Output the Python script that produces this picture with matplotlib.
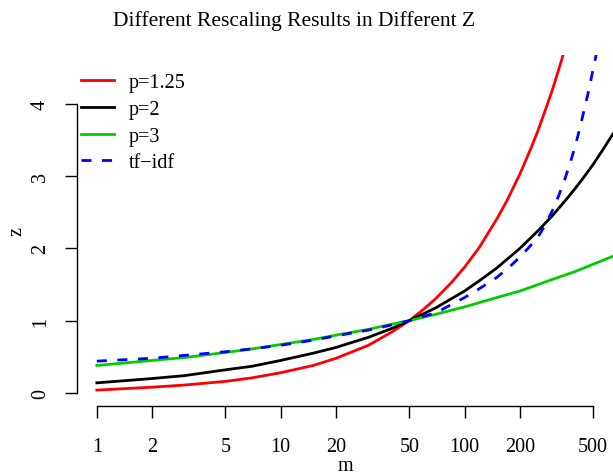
import numpy as np
import matplotlib
matplotlib.use('Agg')
import matplotlib.pyplot as plt

plt.rcParams['font.family'] = ['Liberation Serif', 'DejaVu Serif']

# values
m_red = [1, 2, 3, 5, 7, 10, 15, 20, 30, 40, 50, 60, 70, 85, 100, 120, 150,
         170, 200, 230, 250, 280, 300, 320, 350]
z_red = [0.04, 0.08, 0.11, 0.16, 0.21, 0.28, 0.38, 0.48, 0.66, 0.84, 1.0,
         1.16, 1.31, 1.53, 1.74, 2.01, 2.41, 2.66, 3.03, 3.39, 3.62, 3.97,
         4.19, 4.42, 4.74]

m_black = [1, 2, 3, 5, 7, 10, 15, 20, 30, 40, 50, 70, 100, 120, 150, 200,
           250, 300, 350, 400, 450, 500, 570, 640]
z_black = [0.14, 0.20, 0.24, 0.32, 0.37, 0.45, 0.55, 0.63, 0.77, 0.89, 1.0,
           1.18, 1.41, 1.55, 1.73, 2.0, 2.24, 2.45, 2.65, 2.83, 3.0, 3.16,
           3.38, 3.58]

m_green = [1, 2, 3, 5, 7, 10, 15, 20, 30, 40, 50, 70, 100, 150, 200, 300,
           400, 500, 640]
z_green = [0.38, 0.45, 0.49, 0.56, 0.61, 0.67, 0.74, 0.80, 0.88, 0.95, 1.0,
           1.09, 1.19, 1.32, 1.41, 1.57, 1.68, 1.78, 1.89]

m_tfidf = [1, 2, 3, 5, 7, 10, 15, 20, 30, 40, 50, 70, 100, 120, 150, 175,
           200, 225, 250, 275, 300, 325, 350, 375, 400, 425, 450, 475, 500,
           512, 525]
z_tfidf = [0.44, 0.48, 0.52, 0.57, 0.61, 0.66, 0.73, 0.79, 0.87, 0.94, 1.0,
           1.11, 1.32, 1.44, 1.60, 1.74, 1.88, 2.02, 2.15, 2.33, 2.52, 2.73,
           2.95, 3.18, 3.42, 3.68, 3.95, 4.20, 4.48, 4.60, 4.75]

labels = ['p=1.25', 'p=2', 'p=3', 'tf\u2212idf']
x_ticks = [1, 2, 5, 10, 20, 50, 100, 200, 500]
y_ticks = [0, 1, 2, 3, 4]

W, H = 613, 477
fig = plt.figure(figsize=(W / 100, H / 100), dpi=100, facecolor='white')
ax = fig.add_axes([77 / W, (H - 407) / H, 536 / W, (407 - 55.5) / H])

lw = 2.0
ax.plot(m_red, z_red, color='#FF0000', lw=lw, label=labels[0])
ax.plot(m_black, z_black, color='black', lw=lw, label=labels[1])
ax.plot(m_green, z_green, color='#00CD00', lw=lw, label=labels[2])
ax.plot(m_tfidf, z_tfidf, color='#0000FF', lw=lw, ls=(0, (3.6, 3.8)), label=labels[3])

# R style axes: log x, 4% padding, spines only over the tick range
ax.set_xscale('log')
ax.set_xlim(10 ** (-0.04 * np.log10(500)), 10 ** (1.04 * np.log10(500)))
ax.set_ylim(-0.18, 4.68)
ax.set_xticks(x_ticks)
ax.set_xticklabels([str(t) for t in x_ticks])
ax.minorticks_off()
ax.set_yticks(y_ticks)
ax.set_yticklabels([str(t) for t in y_ticks], rotation=90, va='center')

for s in ['top', 'right']:
    ax.spines[s].set_visible(False)
ax.spines['left'].set_bounds(0, 4)
ax.spines['bottom'].set_bounds(1, 500)
for s in ['left', 'bottom']:
    ax.spines[s].set_linewidth(1.0)

ax.tick_params(axis='both', length=8.6, width=1.0, labelsize=14.5, direction='out')
ax.tick_params(axis='x', pad=14)
ax.tick_params(axis='y', pad=11)

ax.set_xlabel('m', fontsize=14.5, va='bottom')
ax.xaxis.set_label_coords(345 / W, 1 - 476.5 / H, transform=fig.transFigure)
ax.set_ylabel('z', fontsize=14.5, labelpad=3)

fig.text(294.5 / W, 1 - 21 / H, 'Different Rescaling Results in Different Z',
         ha='center', va='center', fontsize=15.5)

leg = ax.legend(loc='upper left', bbox_to_anchor=(80.7 / W, 1 - 74 / H),
                bbox_transform=fig.transFigure, frameon=False, fontsize=14.5,
                handlelength=1.65, handletextpad=0.74, labelspacing=0.38,
                borderpad=0, borderaxespad=0)

fig.savefig('out.png', dpi=100, facecolor='white')
